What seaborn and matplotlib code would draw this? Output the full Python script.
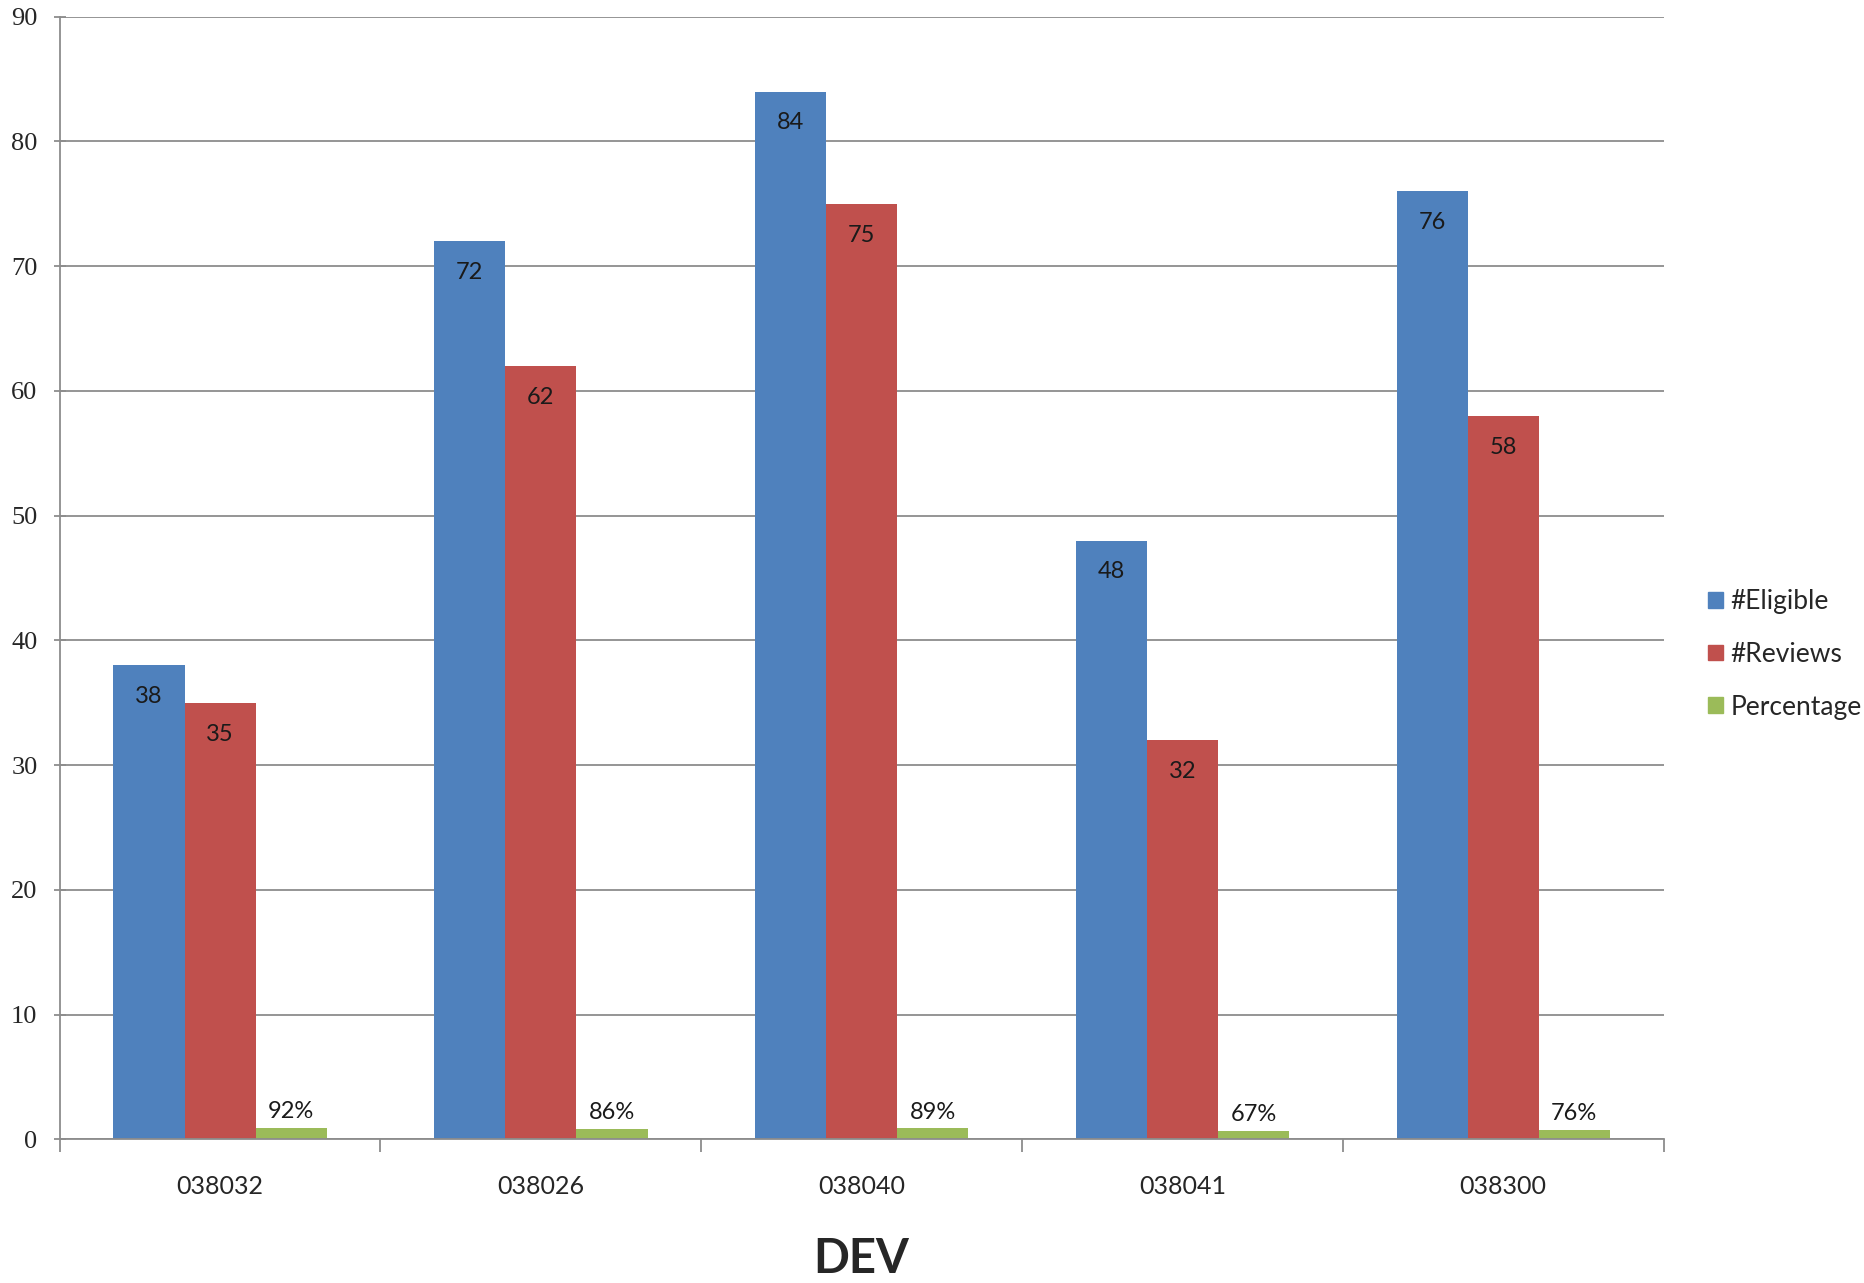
import numpy as np
import pandas as pd
import seaborn as sns
import matplotlib.pyplot as plt

devs = ["038032", "038026", "038040", "038041", "038300"]
eligible = [38, 72, 84, 48, 76]
reviews = [35, 62, 75, 32, 58]
percentage = [0.92, 0.86, 0.89, 0.67, 0.76]
series = ["#Eligible", "#Reviews", "Percentage"]
colors = ["#4F81BD", "#C0504D", "#9BBB59"]

df = pd.DataFrame({
    "DEV": devs * 3,
    "value": eligible + reviews + percentage,
    "series": [s for s in series for _ in devs],
})

sns.set_style("white")
plt.rcParams["font.family"] = ["Lato", "DejaVu Sans"]

fig = plt.figure(figsize=(18.65, 12.83), dpi=100)
ax = fig.add_axes([0.032, 0.112, 0.86, 0.875])

sns.barplot(data=df, x="DEV", y="value", hue="series", order=devs,
            hue_order=series, palette=colors, width=0.665, gap=0,
            saturation=1, linewidth=0, ax=ax, legend=False)

ax.set_ylim(0, 90)
ax.set_xlim(-0.5, 4.5)
ax.set_yticks(range(0, 91, 10))
ax.yaxis.grid(True, color="#8c8c8c", linewidth=1.3)
ax.set_axisbelow(True)
for s in ["top", "right"]:
    ax.spines[s].set_visible(False)
for s in ["left", "bottom"]:
    ax.spines[s].set_color("#8c8c8c")
    ax.spines[s].set_linewidth(1.3)

ax.tick_params(axis="y", direction="inout", length=8, width=1.3, color="#8c8c8c",
               pad=12, labelsize=19, left=True)
for lab in ax.get_yticklabels():
    lab.set_family("Liberation Serif")
ax.tick_params(axis="x", length=0, pad=26, labelsize=18)
ax.set_xticks(np.arange(-0.5, 5, 1), minor=True)
ax.tick_params(axis="x", which="minor", direction="out", length=9, width=1.3,
               color="#8c8c8c", bottom=True)

ax.set_ylabel("")
ax.set_xlabel("DEV", fontsize=34, fontweight="bold", labelpad=28)

# data labels
for cont, name in zip(ax.containers, series):
    for bar, v in zip(cont.patches, cont.datavalues):
        xc = bar.get_x() + bar.get_width() / 2
        top = bar.get_height()
        if name == "Percentage":
            ax.annotate(f"{v:.0%}", (xc, top), xytext=(0, 4), textcoords="offset points",
                        ha="center", va="bottom", fontsize=17, color="#1a1a1a")
        else:
            ax.annotate(f"{v:.0f}", (xc, top), xytext=(0, -15), textcoords="offset points",
                        ha="center", va="top", fontsize=17, color="#1a1a1a")

handles = [plt.Rectangle((0, 0), 1, 1, color=c) for c in colors]
fig.legend(handles, series, loc="center left", bbox_to_anchor=(0.916, 0.49),
           frameon=False, fontsize=19, handlelength=0.55, handleheight=0.55,
           handletextpad=0.3, labelspacing=1.05, borderaxespad=0, borderpad=0)

fig.savefig("out.png", dpi=100)
